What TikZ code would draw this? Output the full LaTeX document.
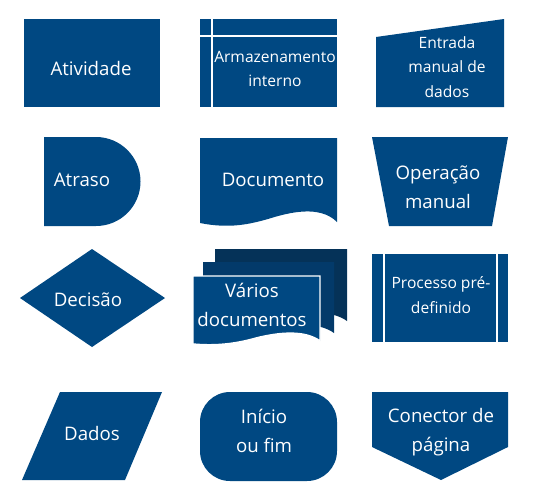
\documentclass[tikz,border=0pt]{standalone}
\usepackage{fontspec}
\setmainfont{Open Sans}
\usetikzlibrary{positioning}

\definecolor{flowblue}{RGB}{0,72,130}
\definecolor{flowmid}{RGB}{3,58,106}
\definecolor{flowdark}{RGB}{5,50,88}

\begin{document}
\begin{tikzpicture}[x=0.75pt, y=-0.75pt,
    blk/.style={fill=flowblue},
    divider/.style={draw=white, line width=1.1pt},
    big/.style={text=white, font=\fontsize{14}{22}\selectfont, align=center, inner sep=0pt},
    small/.style={text=white, font=\fontsize{11.7}{18.5}\selectfont, align=center, inner sep=0pt}]
    \useasboundingbox (0,0) rectangle (546,501);

    % Shapes, row 1
    \fill [blk] (24,19) rectangle (160,107);
    \fill [blk] (200,19) rectangle (337,107);
    \draw [divider] (212,19) -- (212,107);
    \draw [divider] (200,36) -- (337,36);
    \fill [blk] (376,37) -- (504,19) -- (504,107) -- (376,107) -- cycle;

    % Shapes, row 2
    \fill [blk] (44,137) -- (96,137) .. controls (120.6,137) and (140.5,157) .. (140.5,181.5)
                .. controls (140.5,206.1) and (120.6,226) .. (96,226) -- (44,226) -- cycle;
    \fill [blk] (200,138) -- (337,138) -- (337,222) .. controls (320,205) and (290,212) .. (268,219)
                .. controls (250,224) and (230,229) .. (200,223) -- cycle;
    \fill [blk] (372,137) -- (508,137) -- (492,226) -- (389,226) -- cycle;

    % Shapes, row 3
    \fill [blk] (20,298) -- (92,249) -- (165,298) -- (92,347) -- cycle;
    \fill [flowdark] (215,249) -- (347,249) -- (347,321) .. controls (332,310) and (307,312) .. (283,318)
                .. controls (262,324) and (238,326) .. (215,324) -- cycle;
    \fill [flowmid] (203,262) -- (334,262) -- (334,333) .. controls (319,322) and (294,324) .. (270,330)
                .. controls (249,336) and (225,338) .. (203,336) -- cycle;
    \fill [blk, draw=white, line width=1.1pt] (193,276) -- (320,276) -- (320,341)
                .. controls (305,330) and (280,332) .. (256,338)
                .. controls (235,344) and (215,346) .. (193,344) -- cycle;
    \fill [blk] (372,254) rectangle (508,342);
    \draw [divider] (384,254) -- (384,342);
    \draw [divider] (497,254) -- (497,342);

    % Shapes, row 4
    \fill [blk] (60,392) -- (162,392) -- (125,480) -- (22,480) -- cycle;
    \fill [blk, rounded corners=22.5pt] (200,392) rectangle (337,481);
    \fill [blk] (372,392) -- (508,392) -- (508,447) -- (441,480) -- (372,447) -- cycle;

    % Labels
    \node [big]   (ativ)   at (91,68)   {Atividade};
    \node [small] (armaz)  at (275,69)  {Armazenamento\\interno};
    \node [small] (entr)   at (447,67)  {Entrada\\manual de\\dados};
    \node [big]   (atraso) at (82,180)  {Atraso};
    \node [big]   (docu)   at (273,180) {Documento};
    \node [big]   (oper)   at (438,187) {Operação\\manual};
    \node [big]   (decis)  at (88,300)  {Decisão};
    \node [big]   (varios) at (252,305) {Vários\\documentos};
    \node [small] (proc)   at (441,295) {Processo pré-\\definido};
    \node [big]   (dados)  at (92,433)  {Dados};
    \node [big]   (inicio) at (264,431) {Início\\ou fim};
    \node [big]   (conect) at (441,432) {Conector de\\página};
\end{tikzpicture}
\end{document}
